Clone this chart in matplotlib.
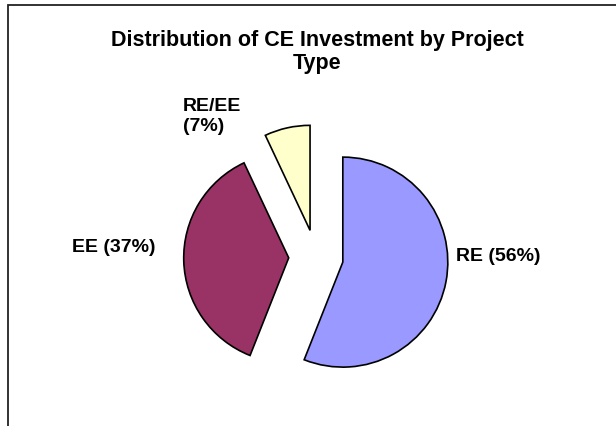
import matplotlib.pyplot as plt
from matplotlib.patches import Rectangle

# data
project_types = ['RE', 'EE', 'RE/EE']
shares = [56, 37, 7]
slice_colors = ['#9999FF', '#993366', '#FFFFCC']

W, H = 616, 427
# pie centre / radius in pixels (y measured from top)
cx, cy, r = 316, 258, 105

fig = plt.figure(figsize=(W / 100, H / 100), dpi=100)
ax = fig.add_axes([0, 0, 1, 1])

ax.pie(shares, colors=slice_colors, startangle=90, counterclock=False,
       explode=[0.26] * len(shares), radius=1,
       wedgeprops=dict(edgecolor='black', linewidth=1.2))
ax.set_xlim(-cx / r, (W - cx) / r)
ax.set_ylim(-(H - cy) / r, cy / r)
ax.set_aspect('equal')
ax.axis('off')

# chart area border: right and bottom edges fall outside the image
left, top = 7.5, 5.5
ax.add_patch(Rectangle(((left - cx) / r, -(H + 20 - cy) / r),
                       (W + 20) / r, (H + 20 - top) / r,
                       fill=False, edgecolor='#222222', linewidth=1.3,
                       clip_on=False))


def fx(px):
    return px / W


def fy(py):
    return 1 - py / H


font = dict(family=['Liberation Sans', 'DejaVu Sans'], fontweight='bold',
            color='black')

# multi-line text: baseline anchor refers to the last line
fig.text(fx(317), fy(69), 'Distribution of CE Investment by Project\nType',
         ha='center', va='baseline', fontsize=15.5, linespacing=1.1, **font)

# label placement (pixels), anchor and alignment per slice
label_seps = [' ', ' ', '\n']
label_pos = [(456, 261, 'left'), (155, 252, 'right'), (183, 131, 'left')]
for name, val, sep, (px, py, ha) in zip(project_types, shares, label_seps, label_pos):
    fig.text(fx(px), fy(py), f'{name}{sep}({val}%)', ha=ha, va='baseline',
             fontsize=14, linespacing=1.25, **font)

fig.savefig('out.png', dpi=100)
